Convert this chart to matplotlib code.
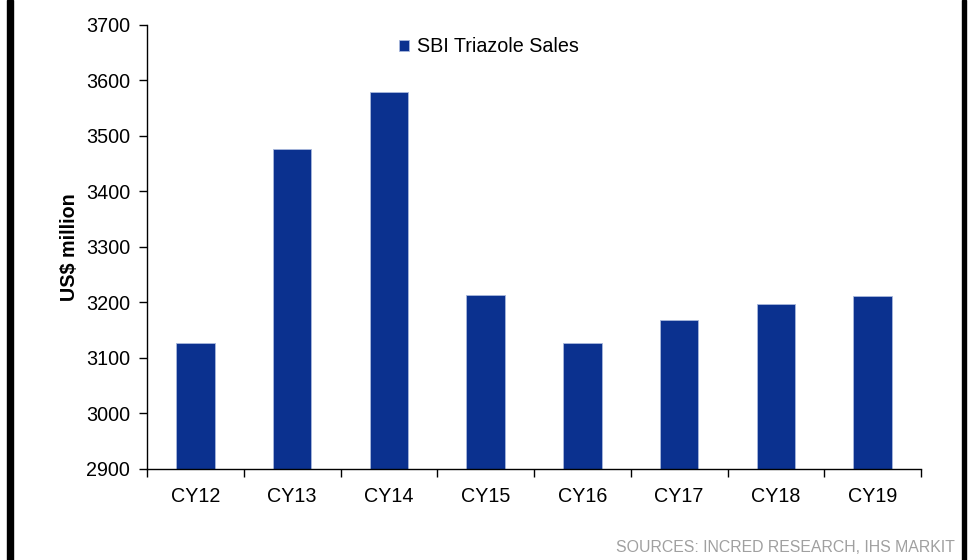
import matplotlib
matplotlib.use("Agg")
import matplotlib.pyplot as plt
from matplotlib.patches import Rectangle

categories = ["CY12", "CY13", "CY14", "CY15", "CY16", "CY17", "CY18", "CY19"]
sales = [3127, 3476, 3580, 3213, 3127, 3168, 3198, 3212]
series_name = "SBI Triazole Sales"
yticks = [2900, 3000, 3100, 3200, 3300, 3400, 3500, 3600, 3700]

plt.rcParams['font.family'] = ['Liberation Sans', 'DejaVu Sans']

fig = plt.figure(figsize=(9.71, 5.6), dpi=100)
ax = fig.add_axes([147/971, 1 - 469/560, (921 - 147)/971, (469 - 25)/560])

fs = 14.2
x = list(range(len(categories)))
ax.bar(x, sales, width=0.4, color='#0B318F', edgecolor='#A9B8DC', linewidth=0.6,
       label=series_name)
ax.set_ylim(2900, 3700)
ax.set_xlim(-0.5, len(categories) - 0.5)
ax.set_yticks(yticks)
ax.set_yticklabels([str(v) for v in yticks], fontsize=fs)
ax.set_xticks(x)
ax.set_xticklabels(categories, fontsize=fs)
ax.tick_params(axis='x', length=0, pad=13)
ax.set_xticks([i - 0.5 for i in range(len(categories) + 1)], minor=True)
ax.tick_params(axis='x', which='minor', length=6, width=1, direction='out')
ax.tick_params(axis='y', length=6, width=1, direction='out', pad=6)
for s in ['top', 'right']:
    ax.spines[s].set_visible(False)
for s in ['left', 'bottom']:
    ax.spines[s].set_linewidth(1)

ax.set_ylabel("US$ million", fontsize=fs, fontweight='bold', labelpad=5)

leg = ax.legend(loc='upper left', bbox_to_anchor=(0.303, 1.012), frameon=False,
                fontsize=fs, handlelength=0.5, handleheight=0.5, handletextpad=0.4)

fig.text(955/971, 1 - 548/560, "SOURCES: INCRED RESEARCH, IHS MARKIT", ha='right', va='center',
         fontsize=11.4, color='#A0A0A0')

fig.patches.append(Rectangle((7/971, 0), 6/971, 1, transform=fig.transFigure, color='black'))
fig.patches.append(Rectangle((962/971, 0), 4/971, 1, transform=fig.transFigure, color='black'))

fig.savefig("out.png", dpi=100)
